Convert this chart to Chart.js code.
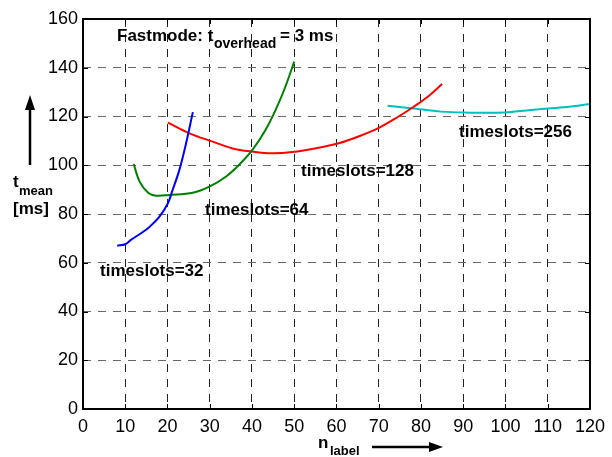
<!DOCTYPE html>
<html>
<head>
<meta charset="utf-8">
<script src="https://cdn.jsdelivr.net/npm/chart.js@4/dist/chart.umd.min.js"></script>
<style>
  body { margin: 0; background: #fff; }
</style>
</head>
<body>
<canvas id="myChart" width="612" height="457"></canvas>
<script>
'use strict';

// tick values
let xTicks = [0, 10, 20, 30, 40, 50, 60, 70, 80, 90, 100, 110, 120];
let yTicks = [0, 20, 40, 60, 80, 100, 120, 140, 160];

// curves (n_label, t_mean in ms)
let n32 = [8.1, 10, 11.5, 14, 15.8, 18.1, 20.1, 21.2, 22.8, 24.4, 26];
let t32 = [67, 67.6, 69.6, 72.4, 74.8, 78.9, 84.4, 89.8, 98, 109, 121.8];

let n64 = [12, 13.4, 15.4, 17.3, 20.5, 26, 29.9, 33.8, 36.9, 40.1, 43.2, 45.6, 47.9, 50];
let t64 = [100.5, 93.3, 88.7, 87.5, 87.8, 88.7, 91.2, 95.3, 100.1, 106.3, 114.5, 122.7, 132.2, 142.5];

let n128 = [20.1, 25.2, 30.7, 35.4, 40.1, 44.8, 49.5, 55.8, 60.5, 65.2, 69.9, 74.6, 78.1, 81.6, 85];
let t128 = [117.5, 113.1, 109.7, 106.9, 105.6, 104.9, 105.4, 107.2, 109, 111.8, 115.2, 119.9, 123.8, 128.1, 133.3];

let n256 = [72.1, 77.7, 84.8, 90.3, 99.7, 106, 113.8, 120];
let t256 = [124.4, 123.4, 122, 121.6, 121.6, 122.7, 123.8, 125.1];

let seriesNames = ['timeslots=32', 'timeslots=64', 'timeslots=128', 'timeslots=256'];
let seriesColors = ['#0000ff', '#008000', '#ff0000', '#00bfbf'];

function toPoints(xs, ys) {
  let pts = [];
  for (let i = 0; i < xs.length; i++) {
    pts.push({ x: xs[i], y: ys[i] });
  }
  return pts;
}

let allX = [n32, n64, n128, n256];
let allY = [t32, t64, t128, t256];
let datasets = [];
for (let i = 0; i < allX.length; i++) {
  datasets.push({
    label: seriesNames[i],
    data: toPoints(allX[i], allY[i]),
    borderColor: seriesColors[i],
    borderWidth: 2,
    showLine: true,
    pointRadius: 0,
    tension: 0.35,
    fill: false,
  });
}

const FONT = '"Liberation Sans", Arial, sans-serif';

function arrowUp(ctx, x, yTop, yBottom) {
  ctx.beginPath();
  ctx.moveTo(x, yBottom);
  ctx.lineTo(x, yTop + 14);
  ctx.stroke();
  ctx.beginPath();
  ctx.moveTo(x, yTop);
  ctx.lineTo(x - 5, yTop + 15);
  ctx.lineTo(x + 5, yTop + 15);
  ctx.closePath();
  ctx.fill();
}

function arrowRight(ctx, xLeft, xRight, y) {
  ctx.beginPath();
  ctx.moveTo(xLeft, y);
  ctx.lineTo(xRight - 13, y);
  ctx.stroke();
  ctx.beginPath();
  ctx.moveTo(xRight, y);
  ctx.lineTo(xRight - 14, y - 5);
  ctx.lineTo(xRight - 14, y + 5);
  ctx.closePath();
  ctx.fill();
}

// frame, inner ticks, annotation text and axis arrows
const decor = {
  id: 'decor',
  afterDraw(chart) {
    let ctx = chart.ctx;
    let a = chart.chartArea;
    let xs = chart.scales.x;
    let ys = chart.scales.y;
    ctx.save();

    ctx.strokeStyle = '#000';
    ctx.lineWidth = 1;
    for (let i = 0; i < xTicks.length; i++) {
      let px = Math.round(xs.getPixelForValue(xTicks[i])) + 0.5;
      ctx.beginPath();
      ctx.moveTo(px, a.bottom); ctx.lineTo(px, a.bottom - 5);
      ctx.moveTo(px, a.top); ctx.lineTo(px, a.top + 5);
      ctx.stroke();
    }
    for (let i = 0; i < yTicks.length; i++) {
      let py = Math.round(ys.getPixelForValue(yTicks[i])) + 0.5;
      ctx.beginPath();
      ctx.moveTo(a.left, py); ctx.lineTo(a.left + 5, py);
      ctx.moveTo(a.right, py); ctx.lineTo(a.right - 5, py);
      ctx.stroke();
    }
    ctx.lineWidth = 2;
    ctx.strokeRect(a.left, a.top, a.right - a.left, a.bottom - a.top);

    ctx.fillStyle = '#000';
    ctx.textBaseline = 'alphabetic';
    ctx.textAlign = 'left';

    ctx.font = 'bold 17px ' + FONT;
    ctx.fillText('Fastmode: t', 117, 41);
    ctx.fillText('= 3 ms', 280, 41);
    ctx.font = 'bold 14px ' + FONT;
    ctx.fillText('overhead', 214, 48);

    ctx.font = 'bold 17px ' + FONT;
    ctx.fillText(seriesNames[0], 100, 276);
    ctx.fillText(seriesNames[1], 205, 215);
    ctx.fillText(seriesNames[2], 301, 176);
    ctx.fillText(seriesNames[3], 459, 137);

    // y axis title
    ctx.fillText('t', 13, 187);
    ctx.fillText('[ms]', 13, 214);
    ctx.font = 'bold 13px ' + FONT;
    ctx.fillText('mean', 19, 195);

    // x axis title
    ctx.font = 'bold 17px ' + FONT;
    ctx.fillText('n', 318, 448);
    ctx.font = 'bold 13px ' + FONT;
    ctx.fillText('label', 330, 455);

    ctx.lineWidth = 2.5;
    arrowUp(ctx, 30, 95, 165);
    arrowRight(ctx, 372, 443, 447);

    ctx.restore();
  },
};

const config = {
  type: 'scatter',
  data: { datasets: datasets },
  options: {
    responsive: false,
    animation: false,
    events: [],
    layout: { padding: { left: 0, top: 19, right: 19, bottom: 0 } },
    plugins: {
      legend: { display: false },
      tooltip: { enabled: false },
    },
    scales: {
      x: {
        type: 'linear',
        min: 0,
        max: 120,
        afterBuildTicks: (scale) => {
          scale.ticks = xTicks.map((v) => ({ value: v }));
        },
        afterFit: (scale) => { scale.height = 48; },
        ticks: {
          color: '#000',
          font: { family: FONT, size: 18 },
          padding: 7,
          maxRotation: 0,
          autoSkip: false,
        },
        grid: {
          color: '#222',
          lineWidth: 1,
          drawTicks: false,
        },
        border: { display: false, dash: [8, 7] },
      },
      y: {
        type: 'linear',
        min: 0,
        max: 160,
        afterBuildTicks: (scale) => {
          scale.ticks = yTicks.map((v) => ({ value: v }));
        },
        afterFit: (scale) => { scale.width = 83; },
        ticks: {
          color: '#000',
          font: { family: FONT, size: 18 },
          padding: 5,
          autoSkip: false,
        },
        grid: {
          color: '#666',
          lineWidth: 1,
          drawTicks: false,
        },
        border: { display: false, dash: [8, 7] },
      },
    },
  },
  plugins: [decor],
};

let chartCanvas = document.getElementById('myChart').getContext('2d');
const myChart = new Chart(chartCanvas, config);
</script>
</body>
</html>
